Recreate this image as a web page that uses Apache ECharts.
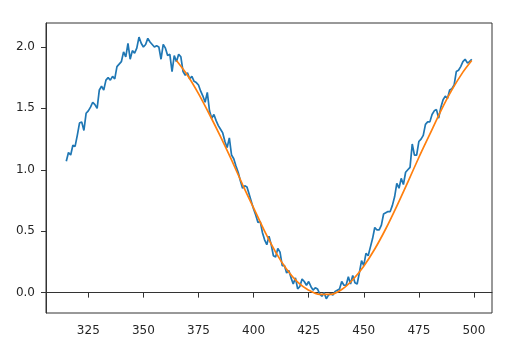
<!DOCTYPE html>
<html>
<head>
<meta charset="utf-8">
<script src="https://cdn.jsdelivr.net/npm/echarts@6/dist/echarts.min.js"></script>
<style>
html,body{margin:0;padding:0;background:#fff;}
#chart{width:518px;height:350px;}
</style>
</head>
<body>
<div id="chart"></div>
<script>
// Noisy measured series: x from 315 to 499, step 1
const dataStartX = 315;
const dataValues = [
1.07,1.14,1.12,1.20,1.19,1.28,1.38,1.39,1.32,1.46,
1.48,1.51,1.55,1.53,1.50,1.65,1.68,1.65,1.73,1.75,
1.73,1.76,1.74,1.84,1.86,1.88,1.96,1.92,2.03,1.90,
1.97,1.95,1.99,2.08,2.03,2.00,2.02,2.07,2.04,2.02,
2.00,2.01,2.00,1.90,2.02,1.99,1.93,1.94,1.80,1.93,
1.88,1.94,1.92,1.80,1.77,1.79,1.74,1.76,1.72,1.71,
1.69,1.64,1.60,1.55,1.63,1.48,1.42,1.45,1.40,1.36,
1.33,1.30,1.23,1.18,1.26,1.12,1.09,1.03,0.98,0.91,
0.85,0.87,0.86,0.80,0.74,0.68,0.63,0.57,0.58,0.49,
0.43,0.39,0.46,0.39,0.30,0.29,0.36,0.33,0.22,0.22,
0.16,0.18,0.12,0.07,0.12,0.03,0.05,0.11,0.09,0.06,
0.09,0.05,0.02,0.04,0.03,-0.01,-0.03,0.00,-0.05,-0.02,
-0.01,-0.02,0.01,0.02,0.03,0.09,0.06,0.06,0.13,0.07,
0.14,0.08,0.07,0.16,0.26,0.22,0.32,0.30,0.37,0.44,
0.53,0.51,0.51,0.55,0.64,0.65,0.66,0.66,0.71,0.78,
0.89,0.85,0.93,0.88,0.98,1.00,1.02,1.21,1.12,1.12,
1.23,1.25,1.28,1.37,1.39,1.39,1.45,1.48,1.49,1.42,
1.51,1.57,1.60,1.58,1.65,1.66,1.69,1.80,1.81,1.84,
1.88,1.90,1.87,1.88,1.90
];

// Fitted curve
const fitX = [365,370,375,380,385,390,395,400,405,410,415,420,425,430,435,440,445,450,455,460,465,470,475,480,485,490,495,499];
const fitY = [1.89,1.77,1.62,1.45,1.27,1.08,0.88,0.69,0.50,0.33,0.19,0.085,0.02,-0.015,-0.015,0.025,0.105,0.215,0.355,0.52,0.705,0.90,1.10,1.29,1.48,1.65,1.795,1.89];

const xTicks = [325,350,375,400,425,450,475,500];
const yTicks = [0.0,0.5,1.0,1.5,2.0];

const measured = dataValues.map((v,i)=>[dataStartX+i, v]);
const fitted = fitX.map((x,i)=>[x, fitY[i]]);

const chart = echarts.init(document.getElementById('chart'), null, {renderer:'canvas'});
const labelStyle = {color:'#262626', fontFamily:'DejaVu Sans', fontSize:12};
chart.setOption({
  animation:false,
  grid:{left:46, right:26, top:23, bottom:37, show:true, borderColor:'#333', borderWidth:1, backgroundColor:'transparent'},
  xAxis:{
    type:'value', min:305.8, max:508.2,
    axisLine:{show:true, lineStyle:{color:'#333', width:1}},
    axisTick:{show:true, length:5, inside:false, lineStyle:{color:'#333'}, customValues: xTicks},
    axisLabel:Object.assign({margin:12, customValues: xTicks, formatter:v=>String(v)}, labelStyle),
    splitLine:{show:false}
  },
  yAxis:{
    type:'value', min:-0.166, max:2.195,
    axisLine:{show:true, lineStyle:{color:'#333', width:1}},
    axisTick:{show:true, length:5, inside:false, lineStyle:{color:'#333'}, customValues: yTicks},
    axisLabel:Object.assign({margin:11, customValues: yTicks, formatter:v=>v.toFixed(1)}, labelStyle),
    splitLine:{show:false}
  },
  series:[
    {type:'line', data:measured, showSymbol:false, symbol:'none', lineStyle:{color:'#1f77b4', width:1.7}, itemStyle:{color:'#1f77b4'}, z:2},
    {type:'line', data:fitted, showSymbol:false, symbol:'none', smooth:0.3, lineStyle:{color:'#ff7f0e', width:1.7}, itemStyle:{color:'#ff7f0e'}, z:3}
  ]
});
</script>
</body>
</html>
